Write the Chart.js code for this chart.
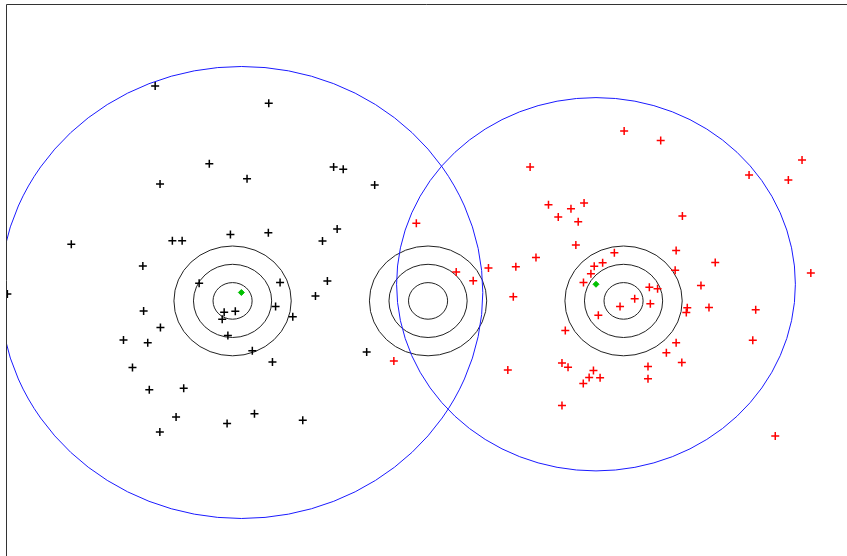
<!DOCTYPE html>
<html>
<head>
<meta charset="utf-8">
<script src="https://cdn.jsdelivr.net/npm/chart.js@4.4.1/dist/chart.umd.min.js"></script>
<style>
  html, body { margin: 0; padding: 0; background: #fff; }
  #wrap { width: 847px; height: 556px; position: relative; }
</style>
</head>
<body>
<div id="wrap"><canvas id="chart_clusters"></canvas></div>
<script>
// Cluster A (black +)
const blackPoints = [
  [-13.96, 11.75], [-8.15, 10.80], [-11.19, 7.49], [-13.71, 6.39], [-9.26, 6.68],
  [-4.83, 7.32], [-4.34, 7.19], [-2.73, 6.34], [-18.25, 3.10], [-13.08, 3.29],
  [-12.58, 3.29], [-10.11, 3.63], [-8.17, 3.73], [-4.65, 3.93], [-5.40, 3.28],
  [-14.59, 1.91], [-21.52, 0.38], [-11.71, 0.96], [-7.57, 1.00], [-5.15, 1.09],
  [-5.76, 0.27], [-10.43, -0.62], [-9.86, -0.57], [-10.53, -1.00], [-10.24, -1.89],
  [-7.80, -0.30], [-6.92, -0.87], [-14.55, -0.55], [-13.69, -1.45], [-15.58, -2.14],
  [-14.34, -2.28], [-8.99, -2.72], [-7.96, -3.34], [-3.14, -2.79], [-15.12, -3.64],
  [-14.26, -4.86], [-12.50, -4.77], [-12.89, -6.35], [-13.72, -7.17], [-10.28, -6.70],
  [-8.88, -6.17], [-6.41, -6.52]
];

// Cluster B (red +)
const redPoints = [
  [-0.60, 4.25], [1.44, 1.58], [2.31, 1.10], [3.09, 1.80], [4.49, 1.87],
  [4.36, 0.23], [-1.75, -3.28], [4.08, -3.77], [5.22, 7.32], [6.16, 5.25],
  [6.66, 4.59], [7.31, 5.03], [7.98, 5.35], [7.68, 4.33], [7.56, 3.06],
  [5.52, 2.37], [10.03, 9.29], [11.90, 8.76], [16.42, 6.88], [18.43, 6.61],
  [19.13, 7.70], [13.01, 4.64], [12.69, 2.76], [9.53, 2.63], [14.69, 2.10],
  [8.93, 2.08], [8.50, 1.89], [8.33, 1.49], [12.64, 1.67], [19.58, 1.53],
  [7.95, 1.01], [11.32, 0.75], [11.74, 0.67], [13.96, 0.84], [10.57, 0.12],
  [9.82, -0.31], [11.37, -0.16], [13.26, -0.37], [13.21, -0.64], [14.37, -0.36],
  [16.76, -0.49], [8.71, -0.79], [7.02, -1.62], [12.69, -2.28], [16.61, -2.15],
  [12.19, -2.84], [12.98, -3.37], [6.85, -3.40], [7.16, -3.63], [8.46, -3.80],
  [11.25, -3.59], [11.25, -4.25], [8.24, -4.19], [8.80, -4.20], [7.94, -4.51],
  [6.85, -5.72], [17.76, -7.38]
];

// Cluster centres (green) and their radius (blue circles)
const centroids = [[-9.55, 0.46], [8.59, 0.91]];
const clusterRadii = [12.35, 10.2];

// Concentric rings (black)
const ringCenters = [[-10, 0], [0, 0], [10, 0]];
const ringRadii = [1, 2, 3];

const xRange = [-21.59, 21.43];
const yRange = [-13.94, 16.17];

function toXY(list) {
  return list.map(p => ({ x: p[0], y: p[1] }));
}

// Kreise in Datenkoordinaten zeichnen (Ellipse in Pixeln)
function drawCircle(chart, cx, cy, r, color) {
  const sx = chart.scales.x, sy = chart.scales.y;
  const px = sx.getPixelForValue(cx);
  const py = sy.getPixelForValue(cy);
  const rx = Math.abs(sx.getPixelForValue(cx + r) - px);
  const ry = Math.abs(sy.getPixelForValue(cy + r) - py);
  const ctx = chart.ctx;
  ctx.beginPath();
  ctx.ellipse(px, py, rx, ry, 0, 0, 2 * Math.PI);
  ctx.strokeStyle = color;
  ctx.lineWidth = 1;
  ctx.stroke();
}

const circlesPlugin = {
  id: 'circles',
  beforeDatasetsDraw(chart) {
    const a = chart.chartArea;
    const ctx = chart.ctx;
    ctx.save();
    ctx.beginPath();
    ctx.rect(a.left, a.top, a.right - a.left, a.bottom - a.top);
    ctx.clip();
    ringCenters.forEach(c => {
      ringRadii.forEach(r => drawCircle(chart, c[0], c[1], r, '#222'));
    });
    centroids.forEach((c, i) => drawCircle(chart, c[0], c[1], clusterRadii[i], '#1a1aff'));
    ctx.restore();
  },
  afterDraw(chart) {
    // Rahmen links und oben
    const a = chart.chartArea;
    const ctx = chart.ctx;
    ctx.save();
    ctx.strokeStyle = '#333';
    ctx.lineWidth = 1;
    ctx.beginPath();
    ctx.moveTo(a.left + 0.5, a.bottom);
    ctx.lineTo(a.left + 0.5, a.top - 0.5);
    ctx.lineTo(a.right, a.top - 0.5);
    ctx.stroke();
    ctx.restore();
  }
};

const ctx = document.getElementById('chart_clusters').getContext('2d');
new Chart(ctx, {
  type: 'scatter',
  data: {
    datasets: [{
      label: 'Cluster A',
      data: toXY(blackPoints),
      pointStyle: 'cross',
      pointRadius: 4,
      borderColor: '#000',
      borderWidth: 1.5,
    },
    {
      label: 'Cluster B',
      data: toXY(redPoints),
      pointStyle: 'cross',
      pointRadius: 4,
      borderColor: '#ff0000',
      borderWidth: 1.5,
    },
    {
      label: 'Centroids',
      data: toXY(centroids),
      pointStyle: 'rectRot',
      pointRadius: 3,
      borderColor: '#00c000',
      backgroundColor: '#00c000',
      borderWidth: 1,
    }]
  },
  options: {
    responsive: true,
    maintainAspectRatio: false,
    animation: false,
    layout: { autoPadding: false, padding: { left: 6, top: 5, right: 0, bottom: 0 } },
    scales: {
      x: { type: 'linear', display: false, min: xRange[0], max: xRange[1] },
      y: { type: 'linear', display: false, min: yRange[0], max: yRange[1] }
    },
    plugins: {
      legend: { display: false },
      tooltip: { enabled: false }
    }
  },
  plugins: [circlesPlugin]
});
</script>
</body>
</html>
